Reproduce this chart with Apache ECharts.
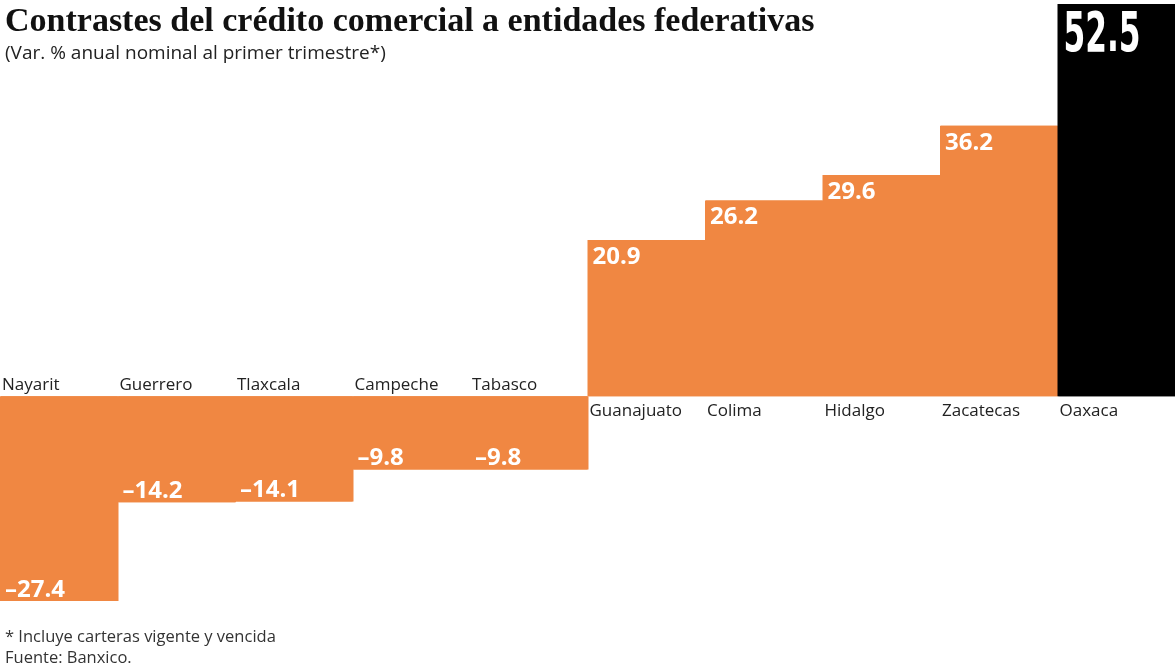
<!DOCTYPE html>
<html><head><meta charset="utf-8">
<script src="https://cdn.jsdelivr.net/npm/echarts@6/dist/echarts.min.js"></script>
<style>html,body{margin:0;padding:0;background:#fff}#c{width:1175px;height:666px}</style>
</head><body><div id="c"></div>
<script>
const categories = ['Nayarit','Guerrero','Tlaxcala','Campeche','Tabasco','Guanajuato','Colima','Hidalgo','Zacatecas','Oaxaca'];
const values = [-27.4,-14.2,-14.1,-9.8,-9.8,20.9,26.2,29.6,36.2,52.5];
const highlight = 'Oaxaca';
const titleText = 'Contrastes del crédito comercial a entidades federativas';
const subtitleText = '(Var. % anual nominal al primer trimestre*)';
const note1 = '* Incluye carteras vigente y vencida';
const note2 = 'Fuente: Banxico.';

const ORANGE = '#F08742';
const fmt = v => (v < 0 ? '–' + Math.abs(v).toFixed(1) : v.toFixed(1));
const hiIndex = categories.indexOf(highlight);

const valueData = values.map((v, i) => {
  const isHi = i === hiIndex;
  const c = isHi ? '#000' : ORANGE;
  return {
    value: v,
    itemStyle: { color: c, shadowColor: c, shadowBlur: 0, shadowOffsetX: 1 },
    label: isHi ? { show: false } : (v >= 0
      ? { position: 'insideTopLeft', distance: 5, offset: [0, 0] }
      : { position: 'insideBottomLeft', distance: 5, offset: [0, 6] })
  };
});
const nameData = values.map(v => ({
  value: 0,
  label: v >= 0
    ? { position: 'insideTopLeft', distance: 2, offset: [0, 4] }
    : { position: 'insideBottomLeft', distance: 2, offset: [0, -1] }
}));

const chart = echarts.init(document.getElementById('c'));
chart.setOption({
  animation: false,
  title: [
    { text: titleText, left: 0, top: 0, textStyle: { fontFamily: '"Liberation Serif",serif', fontWeight: 'bold', fontSize: 34, color: '#111' } },
    { text: subtitleText, left: 0, top: 39, textStyle: { fontFamily: '"Open Sans",sans-serif', fontWeight: 'normal', fontSize: 19, color: '#222' } },
    { text: note1, left: 0, top: 624, textStyle: { fontFamily: '"Open Sans",sans-serif', fontWeight: 'normal', fontSize: 16.5, color: '#333' } },
    { text: note2, left: 0, top: 645, textStyle: { fontFamily: '"Open Sans",sans-serif', fontWeight: 'normal', fontSize: 16.5, color: '#333' } }
  ],
  grid: { left: 0, right: 0, top: 4, bottom: 65 },
  xAxis: { type: 'category', data: categories, show: false },
  yAxis: { type: 'value', min: -27.4, max: 52.5, show: false, splitLine: { show: false } },
  series: [
    {
      type: 'bar', data: valueData, barCategoryGap: 0, barGap: '-100%',
      label: { show: true, formatter: p => fmt(p.value), color: '#fff', fontSize: 24, fontWeight: 'bold',
        fontFamily: '"Open Sans",sans-serif' }
    },
    {
      type: 'bar', data: nameData, barCategoryGap: 0, barGap: '-100%', itemStyle: { color: 'transparent' },
      label: { show: true, formatter: p => p.name, color: '#222', fontSize: 17, fontFamily: '"Open Sans",sans-serif' }
    },
    {
      type: 'custom', z: 10, clip: false, silent: true,
      data: [[hiIndex, values[hiIndex]]],
      encode: { x: 0, y: 1 },
      renderItem: (params, api) => {
        const pt = api.coord([api.value(0), api.value(1)]);
        const bw = api.size([1, 0])[0];
        return {
          type: 'text', z2: 100, x: pt[0] - bw / 2 + 6, y: pt[1] + 4, scaleX: 0.62, scaleY: 1,
          style: { text: fmt(api.value(1)), fill: '#fff', fontSize: 56, fontWeight: 'bold',
            fontFamily: '"DejaVu Sans Condensed","DejaVu Sans",sans-serif', align: 'left', verticalAlign: 'top' }
        };
      }
    }
  ]
});
</script></body></html>
